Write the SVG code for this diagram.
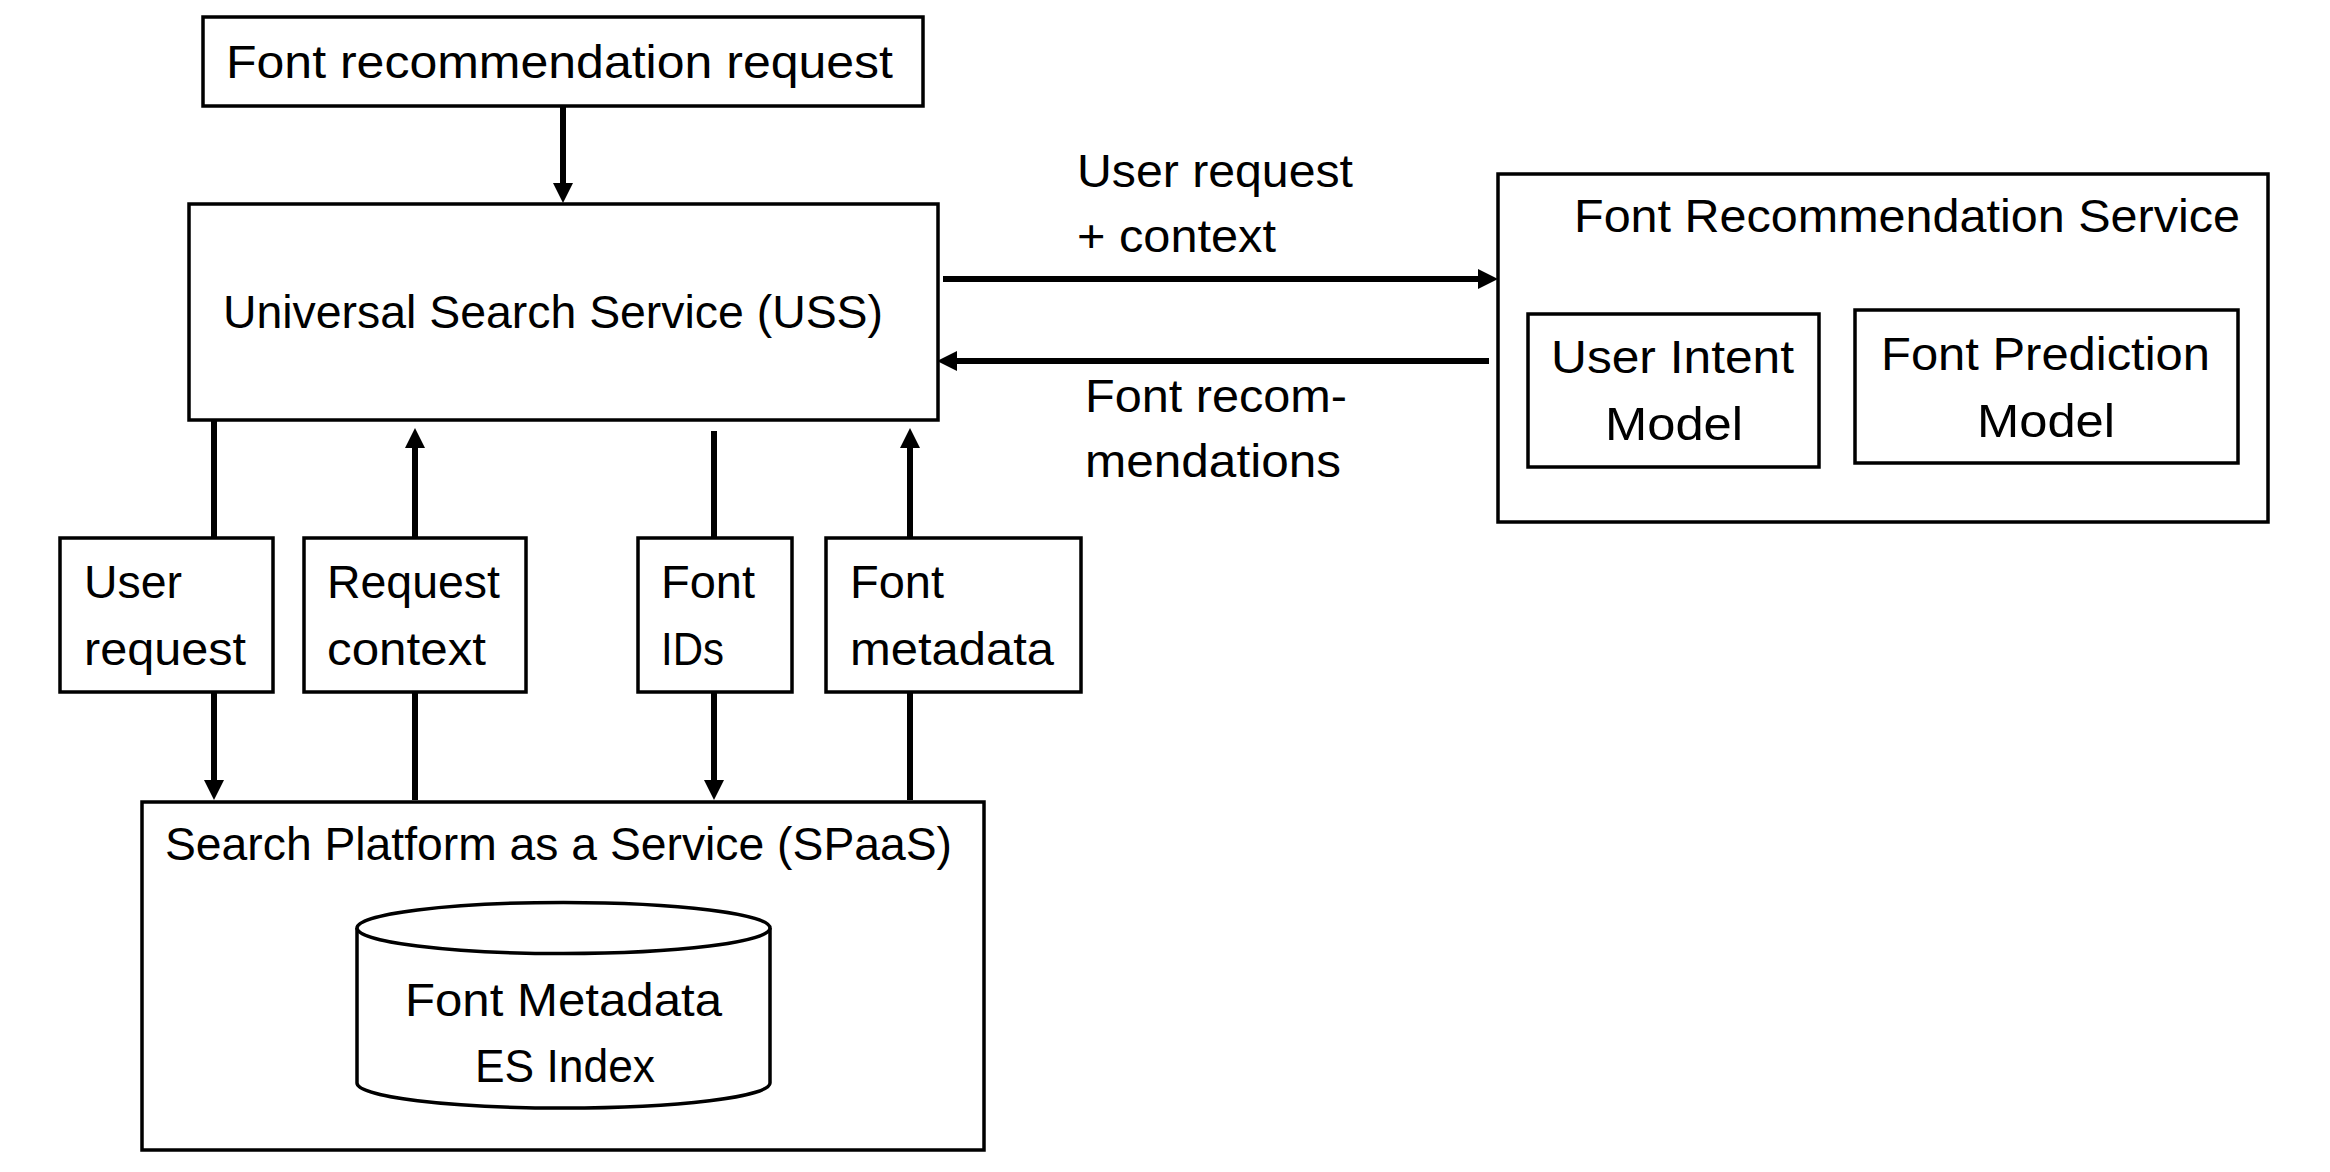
<svg xmlns="http://www.w3.org/2000/svg" width="2330" height="1172" viewBox="0 0 2330 1172">
  <style>
    .box { fill: #ffffff; stroke: #000000; stroke-width: 3.5; }
    .conn { stroke: #000000; stroke-width: 6; fill: none; }
    text { font-family: "Liberation Sans", Arial, sans-serif; font-size: 46px; fill: #000000; }
  </style>
  <defs>
    <marker id="arrow" markerUnits="userSpaceOnUse" markerWidth="20" markerHeight="20" refX="2" refY="10" orient="auto">
      <path d="M0,0 L20,10 L0,20 Z" fill="#000000"/>
    </marker>
  </defs>
  <rect x="0" y="0" width="2330" height="1172" fill="#ffffff"/>

  <g id="font-recommendation-request">
    <rect class="box" x="203" y="17" width="720" height="89"/>
    <text x="226" y="78" textLength="667" lengthAdjust="spacingAndGlyphs">Font recommendation request</text>
  </g>

  <g id="uss">
    <rect class="box" x="189" y="204" width="749" height="216"/>
    <text x="223" y="328" textLength="660" lengthAdjust="spacingAndGlyphs">Universal Search Service (USS)</text>
  </g>

  <g id="font-recommendation-service">
    <rect class="box" x="1498" y="174" width="770" height="348"/>
    <text x="1574" y="232" textLength="666" lengthAdjust="spacingAndGlyphs">Font Recommendation Service</text>
  </g>

  <g id="user-intent-model">
    <rect class="box" x="1528" y="314" width="291" height="153"/>
    <text x="1551" y="373" textLength="243" lengthAdjust="spacingAndGlyphs">User Intent</text>
    <text x="1605" y="440" textLength="138" lengthAdjust="spacingAndGlyphs">Model</text>
  </g>

  <g id="font-prediction-model">
    <rect class="box" x="1855" y="310" width="383" height="153"/>
    <text x="1881" y="370" textLength="329" lengthAdjust="spacingAndGlyphs">Font Prediction</text>
    <text x="1977" y="437" textLength="138" lengthAdjust="spacingAndGlyphs">Model</text>
  </g>

  <g id="label-user-request">
    <rect class="box" x="60" y="538" width="213" height="154"/>
    <text x="84" y="598" textLength="98" lengthAdjust="spacingAndGlyphs">User</text>
    <text x="84" y="665" textLength="162" lengthAdjust="spacingAndGlyphs">request</text>
  </g>

  <g id="label-request-context">
    <rect class="box" x="304" y="538" width="222" height="154"/>
    <text x="327" y="598" textLength="173" lengthAdjust="spacingAndGlyphs">Request</text>
    <text x="327" y="665" textLength="159" lengthAdjust="spacingAndGlyphs">context</text>
  </g>

  <g id="label-font-ids">
    <rect class="box" x="638" y="538" width="154" height="154"/>
    <text x="661" y="598" textLength="94" lengthAdjust="spacingAndGlyphs">Font</text>
    <text x="661" y="665" textLength="63" lengthAdjust="spacingAndGlyphs">IDs</text>
  </g>

  <g id="label-font-metadata">
    <rect class="box" x="826" y="538" width="255" height="154"/>
    <text x="850" y="598" textLength="94" lengthAdjust="spacingAndGlyphs">Font</text>
    <text x="850" y="665" textLength="204" lengthAdjust="spacingAndGlyphs">metadata</text>
  </g>

  <g id="spaas">
    <rect class="box" x="142" y="802" width="842" height="348"/>
    <text x="165" y="860" textLength="787" lengthAdjust="spacingAndGlyphs">Search Platform as a Service (SPaaS)</text>
  </g>

  <g id="font-metadata-es-index">
    <path class="box" d="M357,928 L357,1083 A206,25 0 0 0 770,1083 L770,928 A206,25.5 0 0 0 357,928 Z"/>
    <path class="box" d="M357,928 A206,25.5 0 0 0 770,928" fill="none"/>
    <text x="405" y="1016" textLength="317" lengthAdjust="spacingAndGlyphs">Font Metadata</text>
    <text x="475" y="1082" textLength="180" lengthAdjust="spacingAndGlyphs">ES Index</text>
  </g>

  <g id="edge-labels">
    <text x="1077" y="187" textLength="276" lengthAdjust="spacingAndGlyphs">User request</text>
    <text x="1077" y="252" textLength="199" lengthAdjust="spacingAndGlyphs">+ context</text>
    <text x="1085" y="412" textLength="262" lengthAdjust="spacingAndGlyphs">Font recom-</text>
    <text x="1085" y="477" textLength="256" lengthAdjust="spacingAndGlyphs">mendations</text>
  </g>

  <g id="connectors">
    <line class="conn" x1="563" y1="106" x2="563" y2="185" marker-end="url(#arrow)"/>
    <line class="conn" x1="943" y1="279" x2="1480" y2="279" marker-end="url(#arrow)"/>
    <line class="conn" x1="1489" y1="361" x2="955" y2="361" marker-end="url(#arrow)"/>
    <line class="conn" x1="214" y1="420" x2="214" y2="538"/>
    <line class="conn" x1="214" y1="692" x2="214" y2="782" marker-end="url(#arrow)"/>
    <line class="conn" x1="415" y1="800" x2="415" y2="692"/>
    <line class="conn" x1="415" y1="538" x2="415" y2="446" marker-end="url(#arrow)"/>
    <line class="conn" x1="714" y1="431" x2="714" y2="538"/>
    <line class="conn" x1="714" y1="692" x2="714" y2="782" marker-end="url(#arrow)"/>
    <line class="conn" x1="910" y1="800" x2="910" y2="692"/>
    <line class="conn" x1="910" y1="538" x2="910" y2="446" marker-end="url(#arrow)"/>
  </g>
</svg>
